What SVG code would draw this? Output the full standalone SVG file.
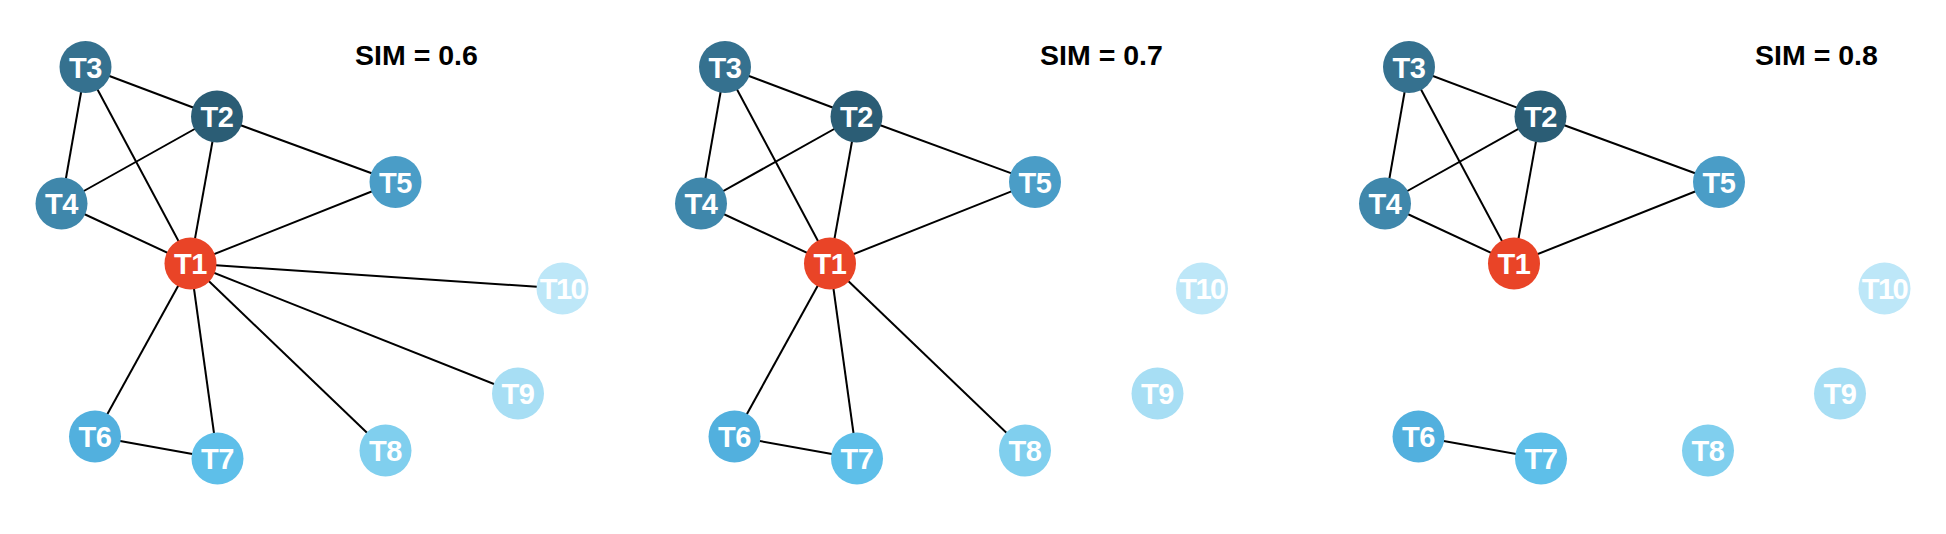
<svg xmlns="http://www.w3.org/2000/svg" width="1946" height="534" viewBox="0 0 1946 534">
<style>
  .bg{fill:#ffffff}
  .e line{stroke:#000;stroke-width:2}
  .n text{font-family:"Liberation Sans",Arial,sans-serif;font-weight:bold;font-size:29px;fill:#fff;text-anchor:middle;letter-spacing:-0.5px}
  .n text.w{letter-spacing:-1.5px}
  .sim{font-family:"Liberation Sans",Arial,sans-serif;font-weight:bold;font-size:28.5px;fill:#000;text-anchor:middle}
  .c1{fill:#e94427}.c2{fill:#2b5d75}.c3{fill:#35718f}.c4{fill:#3f87ab}.c5{fill:#4a9dc7}
  .c6{fill:#52b0de}.c7{fill:#5ebfe9}.c8{fill:#80cfee}.c9{fill:#a7def4}.c10{fill:#bde7f8}
</style>
<rect class="bg" x="0" y="0" width="1946" height="534"/>

<!-- Panel 1 -->
<g id="panel1">
  <text class="sim" x="416.5" y="65">SIM = 0.6</text>
  <g id="p1-edges" class="e">
    <line x1="85.5" y1="67" x2="217" y2="116.5"/>
    <line x1="85.5" y1="67" x2="61.5" y2="203.5"/>
    <line x1="85.5" y1="67" x2="190.5" y2="263.5"/>
    <line x1="217" y1="116.5" x2="61.5" y2="203.5"/>
    <line x1="217" y1="116.5" x2="190.5" y2="263.5"/>
    <line x1="217" y1="116.5" x2="395.5" y2="182"/>
    <line x1="61.5" y1="203.5" x2="190.5" y2="263.5"/>
    <line x1="395.5" y1="182" x2="190.5" y2="263.5"/>
    <line x1="190.5" y1="263.5" x2="562.5" y2="288.5"/>
    <line x1="190.5" y1="263.5" x2="518" y2="393.5"/>
    <line x1="190.5" y1="263.5" x2="385.5" y2="450.5"/>
    <line x1="190.5" y1="263.5" x2="217.5" y2="458.5"/>
    <line x1="190.5" y1="263.5" x2="95" y2="436.5"/>
    <line x1="95" y1="436.5" x2="217.5" y2="458.5"/>
  </g>
  <g id="p1-T3" class="n"><circle class="c3" cx="85.5" cy="67" r="26"/><text x="85.5" y="77.5">T3</text></g>
  <g id="p1-T2" class="n"><circle class="c2" cx="217" cy="116.5" r="26"/><text x="217" y="127">T2</text></g>
  <g id="p1-T4" class="n"><circle class="c4" cx="61.5" cy="203.5" r="26"/><text x="61.5" y="214">T4</text></g>
  <g id="p1-T5" class="n"><circle class="c5" cx="395.5" cy="182" r="26"/><text x="395.5" y="192.5">T5</text></g>
  <g id="p1-T1" class="n"><circle class="c1" cx="190.5" cy="263.5" r="26"/><text x="190.5" y="274">T1</text></g>
  <g id="p1-T10" class="n"><circle class="c10" cx="562.5" cy="288.5" r="26"/><text class="w" x="562.5" y="299">T10</text></g>
  <g id="p1-T9" class="n"><circle class="c9" cx="518" cy="393.5" r="26"/><text x="518" y="404">T9</text></g>
  <g id="p1-T6" class="n"><circle class="c6" cx="95" cy="436.5" r="26"/><text x="95" y="447">T6</text></g>
  <g id="p1-T7" class="n"><circle class="c7" cx="217.5" cy="458.5" r="26"/><text x="217.5" y="469">T7</text></g>
  <g id="p1-T8" class="n"><circle class="c8" cx="385.5" cy="450.5" r="26"/><text x="385.5" y="461">T8</text></g>
</g>

<!-- Panel 2 -->
<g id="panel2">
  <text class="sim" x="1101.5" y="65">SIM = 0.7</text>
  <g transform="translate(639.5,0)">
    <g id="p2-edges" class="e">
      <line x1="85.5" y1="67" x2="217" y2="116.5"/>
      <line x1="85.5" y1="67" x2="61.5" y2="203.5"/>
      <line x1="85.5" y1="67" x2="190.5" y2="263.5"/>
      <line x1="217" y1="116.5" x2="61.5" y2="203.5"/>
      <line x1="217" y1="116.5" x2="190.5" y2="263.5"/>
      <line x1="217" y1="116.5" x2="395.5" y2="182"/>
      <line x1="61.5" y1="203.5" x2="190.5" y2="263.5"/>
      <line x1="395.5" y1="182" x2="190.5" y2="263.5"/>
      <line x1="190.5" y1="263.5" x2="385.5" y2="450.5"/>
      <line x1="190.5" y1="263.5" x2="217.5" y2="458.5"/>
      <line x1="190.5" y1="263.5" x2="95" y2="436.5"/>
      <line x1="95" y1="436.5" x2="217.5" y2="458.5"/>
    </g>
    <g id="p2-T3" class="n"><circle class="c3" cx="85.5" cy="67" r="26"/><text x="85.5" y="77.5">T3</text></g>
    <g id="p2-T2" class="n"><circle class="c2" cx="217" cy="116.5" r="26"/><text x="217" y="127">T2</text></g>
    <g id="p2-T4" class="n"><circle class="c4" cx="61.5" cy="203.5" r="26"/><text x="61.5" y="214">T4</text></g>
    <g id="p2-T5" class="n"><circle class="c5" cx="395.5" cy="182" r="26"/><text x="395.5" y="192.5">T5</text></g>
    <g id="p2-T1" class="n"><circle class="c1" cx="190.5" cy="263.5" r="26"/><text x="190.5" y="274">T1</text></g>
    <g id="p2-T10" class="n"><circle class="c10" cx="562.5" cy="288.5" r="26"/><text class="w" x="562.5" y="299">T10</text></g>
    <g id="p2-T9" class="n"><circle class="c9" cx="518" cy="393.5" r="26"/><text x="518" y="404">T9</text></g>
    <g id="p2-T6" class="n"><circle class="c6" cx="95" cy="436.5" r="26"/><text x="95" y="447">T6</text></g>
    <g id="p2-T7" class="n"><circle class="c7" cx="217.5" cy="458.5" r="26"/><text x="217.5" y="469">T7</text></g>
    <g id="p2-T8" class="n"><circle class="c8" cx="385.5" cy="450.5" r="26"/><text x="385.5" y="461">T8</text></g>
  </g>
</g>

<!-- Panel 3 -->
<g id="panel3">
  <text class="sim" x="1816.5" y="65">SIM = 0.8</text>
  <g transform="translate(1323.5,0)">
    <g id="p3-edges" class="e">
      <line x1="85.5" y1="67" x2="217" y2="116.5"/>
      <line x1="85.5" y1="67" x2="61.5" y2="203.5"/>
      <line x1="85.5" y1="67" x2="190.5" y2="263.5"/>
      <line x1="217" y1="116.5" x2="61.5" y2="203.5"/>
      <line x1="217" y1="116.5" x2="190.5" y2="263.5"/>
      <line x1="217" y1="116.5" x2="395.5" y2="182"/>
      <line x1="61.5" y1="203.5" x2="190.5" y2="263.5"/>
      <line x1="395.5" y1="182" x2="190.5" y2="263.5"/>
      <line x1="95" y1="436.5" x2="217.5" y2="458.5"/>
    </g>
    <g id="p3-T3" class="n"><circle class="c3" cx="85.5" cy="67" r="26"/><text x="85.5" y="77.5">T3</text></g>
    <g id="p3-T2" class="n"><circle class="c2" cx="217" cy="116.5" r="26"/><text x="217" y="127">T2</text></g>
    <g id="p3-T4" class="n"><circle class="c4" cx="61.5" cy="203.5" r="26"/><text x="61.5" y="214">T4</text></g>
    <g id="p3-T5" class="n"><circle class="c5" cx="395.5" cy="182" r="26"/><text x="395.5" y="192.5">T5</text></g>
    <g id="p3-T1" class="n"><circle class="c1" cx="190.5" cy="263.5" r="26"/><text x="190.5" y="274">T1</text></g>
    <g id="p3-T10" class="n"><circle class="c10" cx="561" cy="288.5" r="26"/><text class="w" x="561" y="299">T10</text></g>
    <g id="p3-T9" class="n"><circle class="c9" cx="516.5" cy="393.5" r="26"/><text x="516.5" y="404">T9</text></g>
    <g id="p3-T6" class="n"><circle class="c6" cx="95" cy="436.5" r="26"/><text x="95" y="447">T6</text></g>
    <g id="p3-T7" class="n"><circle class="c7" cx="217.5" cy="458.5" r="26"/><text x="217.5" y="469">T7</text></g>
    <g id="p3-T8" class="n"><circle class="c8" cx="384.5" cy="450.5" r="26"/><text x="384.5" y="461">T8</text></g>
  </g>
</g>
</svg>
